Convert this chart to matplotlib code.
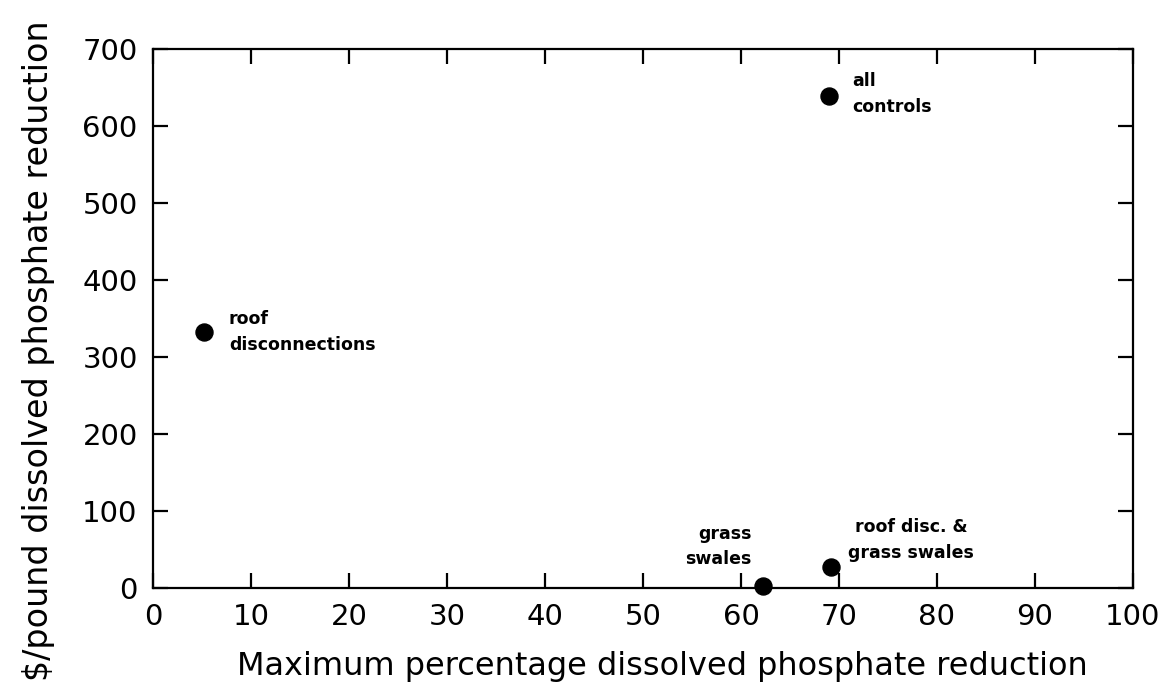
import matplotlib
matplotlib.use("Agg")
import matplotlib.pyplot as plt

# Data
labels = ["roof\ndisconnections", "all\ncontrols", "grass\nswales", "roof disc. &\ngrass swales"]
x_reduction = [5.2, 69.0, 62.2, 69.2]
y_cost = [332, 639, 2, 27]

x_ticks = [0, 10, 20, 30, 40, 50, 60, 70, 80, 90, 100]
y_ticks = [0, 100, 200, 300, 400, 500, 600, 700]

# Label placement (offset in pixels, alignment)
label_offsets = [(25, 0), (23, 2), (-11, 40), (80, 27)]
label_ha = ["left", "left", "right", "center"]

plt.rcParams['font.family'] = ['DejaVu Sans']

fig = plt.figure(figsize=(11.72, 6.96), dpi=100)
ax = fig.add_axes([0.1305, 0.1552, 0.8362, 0.7744])

ax.scatter(x_reduction, y_cost, s=150, color='black', zorder=3, clip_on=False)

for lab, xv, yv, off, ha in zip(labels, x_reduction, y_cost, label_offsets, label_ha):
    ax.annotate(lab, (xv, yv), xytext=off, textcoords='offset pixels',
                ha=ha, va='center', multialignment=ha, fontsize=12.5,
                fontweight='semibold', linespacing=1.55)

ax.set_xlim(0, 100)
ax.set_ylim(0, 700)
ax.set_xticks(x_ticks)
ax.set_yticks(y_ticks)
ax.tick_params(direction='in', length=11, width=1.6, top=True, right=True,
               labelsize=21, pad=11)
for sp in ax.spines.values():
    sp.set_linewidth(1.6)

ax.set_xlabel("Maximum percentage dissolved phosphate reduction", fontsize=23, labelpad=14)
ax.set_ylabel("\\$/pound dissolved phosphate reduction", fontsize=24, labelpad=20)
ax.xaxis.label.set_x(0.52)
ax.yaxis.label.set_y(0.44)

fig.savefig("out.png", dpi=100)
